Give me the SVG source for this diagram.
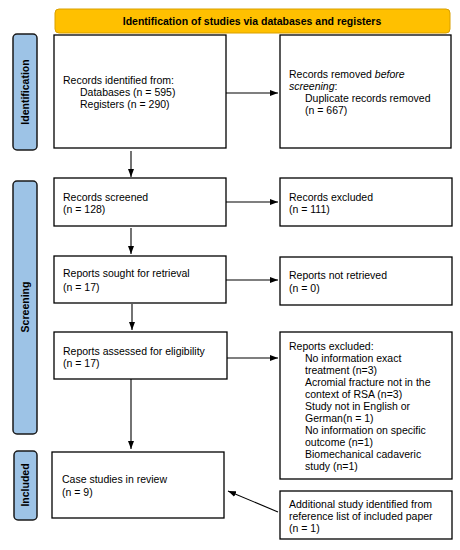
<svg xmlns="http://www.w3.org/2000/svg" width="460" height="550" viewBox="0 0 460 550">
<style>
.box{fill:#fff;stroke:#000;stroke-width:1.3}
.side{fill:#9DC3E6;stroke:#1a1a1a;stroke-width:1.5}
.t{font-family:"Liberation Sans",Arial,sans-serif;font-size:10.5px;fill:#000}
.b{font-family:"Liberation Sans",Arial,sans-serif;font-size:10.5px;font-weight:bold;fill:#000}
.c{stroke:#000;stroke-width:1.1;fill:none;marker-end:url(#ah)}
</style>
<defs>
<marker id="ah" viewBox="0 0 8 6" refX="8" refY="3" markerWidth="8" markerHeight="6" markerUnits="userSpaceOnUse" orient="auto">
<path d="M0,0 L8,3 L0,6 z" fill="#000"/>
</marker>
</defs>
<rect width="460" height="550" fill="#fff"/>
<g id="banner">
<rect x="55" y="9" width="395" height="24" rx="4" fill="#FFC000" stroke="#D9A000" stroke-width="1"/>
<text class="b" x="252" y="25" text-anchor="middle">Identification of studies via databases and registers</text>
</g>
<g id="label-identification">
<rect class="side" x="13" y="34" width="24" height="116" rx="4"/>
<text class="b" transform="translate(29,92) rotate(-90)" text-anchor="middle">Identification</text>
</g>
<g id="label-screening">
<rect class="side" x="13" y="181" width="24" height="253" rx="4"/>
<text class="b" transform="translate(29,307) rotate(-90)" text-anchor="middle">Screening</text>
</g>
<g id="label-included">
<rect class="side" x="14" y="451" width="23" height="69" rx="4"/>
<text class="b" transform="translate(29,485) rotate(-90)" text-anchor="middle">Included</text>
</g>
<g id="n-identified">
<rect class="box" x="54" y="35" width="172" height="113"/>
<text class="t" x="63" y="84">Records identified from:</text>
<text class="t" x="80" y="96">Databases (n = 595)</text>
<text class="t" x="80" y="108">Registers (n = 290)</text>
</g>
<g id="n-removed">
<rect class="box" x="280" y="35" width="171" height="113"/>
<text class="t" x="289" y="78">Records removed <tspan font-style="italic">before</tspan></text>
<text class="t" x="289" y="90"><tspan font-style="italic">screening</tspan>:</text>
<text class="t" x="305" y="102">Duplicate records removed</text>
<text class="t" x="305" y="114">(n = 667)</text>
</g>
<g id="n-screened">
<rect class="box" x="54" y="178" width="172" height="48"/>
<text class="t" x="63" y="201">Records screened</text>
<text class="t" x="63" y="213">(n = 128)</text>
</g>
<g id="n-excluded">
<rect class="box" x="280" y="178" width="172" height="48"/>
<text class="t" x="289" y="201">Records excluded</text>
<text class="t" x="289" y="213">(n = 111)</text>
</g>
<g id="n-sought">
<rect class="box" x="54" y="256" width="172" height="47"/>
<text class="t" x="63" y="277">Reports sought for retrieval</text>
<text class="t" x="63" y="291">(n = 17)</text>
</g>
<g id="n-notretrieved">
<rect class="box" x="280" y="257" width="172" height="48"/>
<text class="t" x="289" y="279">Reports not retrieved</text>
<text class="t" x="289" y="292">(n = 0)</text>
</g>
<g id="n-assessed">
<rect class="box" x="54" y="332" width="173" height="47"/>
<text class="t" x="63" y="355">Reports assessed for eligibility</text>
<text class="t" x="63" y="367">(n = 17)</text>
</g>
<g id="n-reportsexcluded">
<rect class="box" x="280" y="332" width="172" height="147"/>
<text class="t" x="289" y="350">Reports excluded:</text>
<text class="t" x="305" y="362">No information exact</text>
<text class="t" x="305" y="374">treatment (n=3)</text>
<text class="t" x="305" y="386">Acromial fracture not in the</text>
<text class="t" x="305" y="398">context of RSA (n=3)</text>
<text class="t" x="305" y="410">Study not in English or</text>
<text class="t" x="305" y="422">German(n = 1)</text>
<text class="t" x="305" y="434">No information on specific</text>
<text class="t" x="305" y="446">outcome (n=1)</text>
<text class="t" x="305" y="458">Biomechanical cadaveric</text>
<text class="t" x="305" y="470">study (n=1)</text>
</g>
<g id="n-included">
<rect class="box" x="52" y="452" width="172" height="66"/>
<text class="t" x="62" y="483">Case studies in review</text>
<text class="t" x="62" y="496">(n = 9)</text>
</g>
<g id="n-additional">
<rect class="box" x="280" y="491" width="172" height="48"/>
<text class="t" x="289" y="508">Additional study identified from</text>
<text class="t" x="289" y="520">reference list of included paper</text>
<text class="t" x="289" y="532">(n = 1)</text>
</g>
<g id="connectors">
<line class="c" x1="226" y1="93" x2="278" y2="93"/>
<line class="c" x1="131" y1="151" x2="131" y2="177"/>
<line class="c" x1="226" y1="202" x2="278" y2="202"/>
<line class="c" x1="131" y1="228" x2="131" y2="254"/>
<line class="c" x1="226" y1="280" x2="278" y2="280"/>
<line class="c" x1="132" y1="304" x2="132" y2="330"/>
<line class="c" x1="227" y1="358" x2="278" y2="358"/>
<line class="c" x1="131" y1="379" x2="131" y2="449"/>
<line class="c" x1="278" y1="512" x2="228" y2="491"/>
</g>
</svg>
